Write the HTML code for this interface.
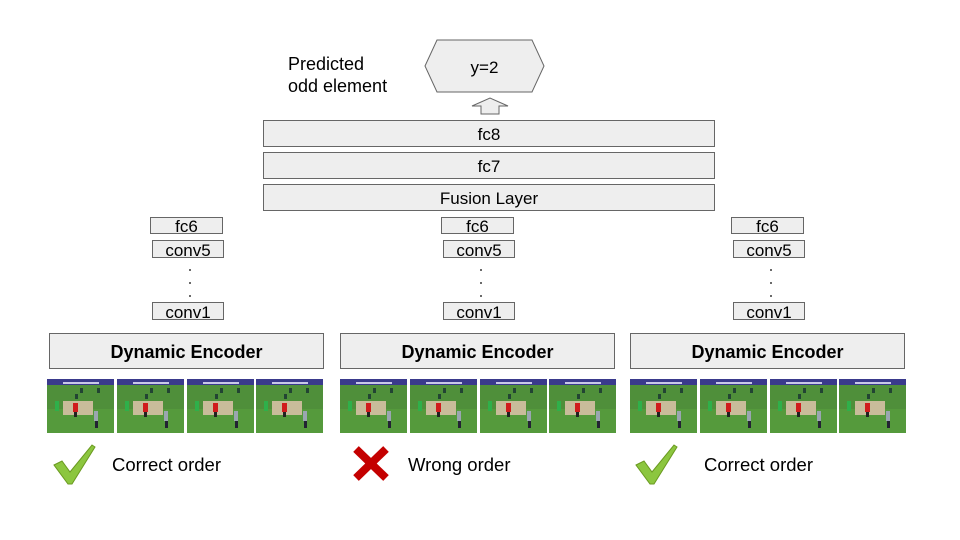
<!DOCTYPE html>
<html><head><meta charset="utf-8"><style>
html,body{margin:0;padding:0;background:#fff;}
svg{display:block;font-family:"Liberation Sans",Arial,sans-serif;}
</style></head><body>
<svg width="960" height="540" viewBox="0 0 960 540" xmlns="http://www.w3.org/2000/svg">
<defs>
<symbol id="fr" viewBox="0 0 67 54" width="67" height="54">
  <rect x="0" y="0" width="67" height="54" fill="#4f8f3a"/>
  <rect x="0" y="30" width="67" height="24" fill="#559a3c"/>
  <rect x="0" y="0" width="67" height="6" fill="#3a3a8c"/>
  <rect x="16" y="3" width="36" height="2" fill="#c8c8e8"/>
  <rect x="16" y="22" width="30" height="14" fill="#c9bc9a"/>
  <rect x="8" y="22" width="4" height="10" fill="#2fb04a"/>
  <rect x="26" y="24" width="5" height="9" fill="#d01c1c"/>
  <rect x="27" y="33" width="3" height="5" fill="#222"/>
  <rect x="47" y="32" width="4" height="10" fill="#9aa6b0"/>
  <rect x="48" y="42" width="3" height="7" fill="#223"/>
  <rect x="33" y="9" width="3" height="5" fill="#243"/>
  <rect x="50" y="9" width="3" height="5" fill="#243"/>
  <rect x="28" y="15" width="3" height="5" fill="#243"/>
</symbol>
<g id="frames">
<use href="#fr" x="47" y="379"/>
<use href="#fr" x="117" y="379"/>
<use href="#fr" x="187" y="379"/>
<use href="#fr" x="256" y="379"/>
</g>
</defs>

<text x="288" y="70" font-size="18" fill="#000">Predicted</text>
<text x="288" y="92" font-size="18" fill="#000">odd element</text>
<polygon points="425,66 437,40 532,40 544,66 532,92 437,92" fill="#eeeeee" stroke="#666" stroke-width="1"/>
<text x="484.5" y="73" font-size="17" text-anchor="middle">y=2</text>
<polygon points="472,106 490,98 508,106 499,106 499,114 481,114 481,106" fill="#eee" stroke="#666" stroke-width="1"/>

<rect x="263.5" y="120.5" width="451" height="26" fill="#eeeeee" stroke="#666"/>
<text x="489" y="140" font-size="17" text-anchor="middle">fc8</text>
<rect x="263.5" y="152.5" width="451" height="26" fill="#eeeeee" stroke="#666"/>
<text x="489" y="172" font-size="17" text-anchor="middle">fc7</text>
<rect x="263.5" y="184.5" width="451" height="26" fill="#eeeeee" stroke="#666"/>
<text x="489" y="204" font-size="17" text-anchor="middle">Fusion Layer</text>

<g id="c1">
<rect x="150.5" y="217.5" width="72" height="16" fill="#eeeeee" stroke="#666"/>
<text x="186.5" y="232" font-size="17" text-anchor="middle">fc6</text>
<rect x="152.5" y="240.5" width="71" height="17" fill="#eeeeee" stroke="#666"/>
<text x="188" y="256" font-size="17" text-anchor="middle">conv5</text>
<circle cx="190" cy="270" r="0.9" fill="#000"/>
<circle cx="190" cy="283" r="0.9" fill="#000"/>
<circle cx="190" cy="296" r="0.9" fill="#000"/>
<rect x="152.5" y="302.5" width="71" height="17" fill="#eeeeee" stroke="#666"/>
<text x="188" y="318" font-size="17" text-anchor="middle">conv1</text>
<rect x="49.5" y="333.5" width="274" height="35" fill="#eeeeee" stroke="#666"/>
<text x="186.5" y="358" font-size="18" font-weight="bold" text-anchor="middle">Dynamic Encoder</text>
</g>
<use href="#c1" x="291"/>
<use href="#c1" x="581"/>
<use href="#frames" x="0"/>
<use href="#frames" x="293"/>
<use href="#frames" x="583"/>

<g id="chk">
<polygon points="54,465 62,461 70,472 92,445 95,447 72,484 68,484" fill="#8cc63f" stroke="#6a9a20" stroke-width="1"/>
</g>
<use href="#chk" x="582"/>
<text x="112" y="471" font-size="18.5">Correct order</text>
<text x="704" y="471" font-size="18.5">Correct order</text>

<g stroke="#c40000" stroke-width="8" stroke-linecap="butt">
<line x1="356" y1="449" x2="386" y2="478"/>
<line x1="386" y1="449" x2="356" y2="478"/>
</g>
<text x="408" y="471" font-size="18.5">Wrong order</text>
</svg>
</body></html>
